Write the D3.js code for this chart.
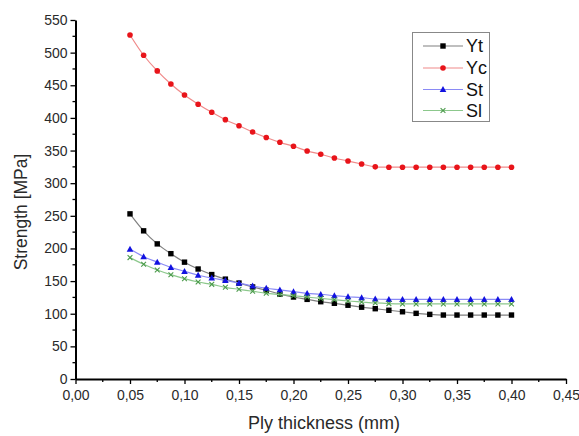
<!DOCTYPE html>
<html><head><meta charset="utf-8">
<script src="https://cdn.jsdelivr.net/npm/d3@7"></script>
<style>body{margin:0;background:#fff}svg{display:block}text{font-family:"Liberation Sans",Arial,sans-serif}</style>
</head><body><div id="c"></div>
<script>
const thickness = d3.range(29).map(i => +(0.05 + i*0.0125).toFixed(4));
const Yt = [253,227,207,192,179,168.5,160,153,147,141,136,130,125.6,122,118.4,116,113,110,107.7,105.3,103,100.6,99,98,98,98,98,98,98];
const Yc = [527,496,472,452,435,421,408.6,397.3,388,378.4,370,362.6,356.5,349.3,344.3,338.6,334,329.4,325,324.5,324.5,324.5,324.5,324.5,324.5,324.5,324.5,324.5,324.5];
const St = [199,187.4,179,171,165,159,154.7,151,147,142.5,139,136.4,133.8,131.3,129.8,127.7,126,124.6,122.6,122,122,122,122,122,122,122,122,122,122];
const Sl = [186,175.7,167,159.8,153.7,148.6,145,140.5,137.4,134.4,131.3,129.5,127.5,125.5,123.5,121.5,119.5,118,116.5,115.5,115,115,115,115,115,115,115,115,115];
const seriesNames = ["Yt","Yc","St","Sl"];
const xTicks = [0,0.05,0.10,0.15,0.20,0.25,0.30,0.35,0.40,0.45];
const yTicks = [0,50,100,150,200,250,300,350,400,450,500,550];

const W=579,H=436;
const svg=d3.select("#c").append("svg").attr("width",W).attr("height",H);
const x=d3.scaleLinear().domain([0,0.45]).range([75.5,566]);
const y=d3.scaleLinear().domain([0,550]).range([379,20]);

const series=[
 {name:"Yt",vals:Yt,line:"#808080",mark:"#000",shape:"square"},
 {name:"Yc",vals:Yc,line:"#f08a8a",mark:"#e8141a",shape:"circle"},
 {name:"St",vals:St,line:"#8a8af5",mark:"#1212e0",shape:"triangle"},
 {name:"Sl",vals:Sl,line:"#8cc88c",mark:"#4a9a4a",shape:"cross"}
];

function drawMarker(g,shape,col,cx,cy){
  if(shape==="square") g.append("rect").attr("x",cx-2.7).attr("y",cy-2.7).attr("width",5.4).attr("height",5.4).attr("fill",col);
  else if(shape==="circle") g.append("circle").attr("cx",cx).attr("cy",cy).attr("r",2.8).attr("fill",col);
  else if(shape==="triangle") g.append("path").attr("d",`M${cx},${cy-3.4}L${cx+3.3},${cy+2.6}L${cx-3.3},${cy+2.6}Z`).attr("fill",col);
  else g.append("path").attr("d",`M${cx-2.4},${cy-2.4}L${cx+2.4},${cy+2.4}M${cx+2.4},${cy-2.4}L${cx-2.4},${cy+2.4}`).attr("stroke",col).attr("stroke-width",1.1);
}

series.forEach(s=>{
  const data=thickness.map((t,i)=>[t,s.vals[i]]);
  svg.append("path").datum(data).attr("fill","none").attr("stroke",s.line).attr("stroke-width",1.2)
    .attr("d",d3.line().x(d=>x(d[0])).y(d=>y(d[1])).curve(d3.curveCatmullRom));
  const g=svg.append("g");
  data.forEach(d=>drawMarker(g,s.shape,s.mark,x(d[0]),y(d[1])));
});

const xMinor=d3.range(0.025,0.45,0.05);
const yMinor=d3.range(25,550,50);
const ax=svg.append("g").attr("transform","translate(0,379)");
ax.call(d3.axisBottom(x).tickValues(xTicks).tickSize(5).tickSizeOuter(0).tickPadding(4).tickFormat(d=>d3.format(".2f")(d).replace(".",",")));
xMinor.forEach(v=>ax.append("line").attr("x1",x(v)).attr("x2",x(v)).attr("y1",0).attr("y2",3).attr("stroke","#000").attr("stroke-width",1.3));
const ay=svg.append("g").attr("transform","translate(75.5,0)");
ay.call(d3.axisLeft(y).tickValues(yTicks).tickSize(5).tickSizeOuter(0).tickPadding(3));
yMinor.forEach(v=>ay.append("line").attr("x1",0).attr("x2",-3).attr("y1",y(v)).attr("y2",y(v)).attr("stroke","#000").attr("stroke-width",1.3));
[ax,ay].forEach(a=>{
  a.select(".domain").attr("stroke","#000").attr("stroke-width",2);
  a.selectAll(".tick line").attr("stroke","#000").attr("stroke-width",1.3);
  a.selectAll(".tick text").attr("fill","#2a2a2a").style("font-size","14px");
});
ax.selectAll(".tick text").attr("dy","0.85em");

svg.append("text").attr("x",324).attr("y",429).attr("text-anchor","middle").attr("fill","#2a2a2a").style("font-size","18px").text("Ply thickness (mm)");
svg.append("text").attr("transform","translate(27,212) rotate(-90)").attr("text-anchor","middle").attr("fill","#2a2a2a").style("font-size","17.5px").text("Strength [MPa]");

const lg=svg.append("g");
lg.append("rect").attr("x",412.5).attr("y",32.5).attr("width",77).attr("height",89).attr("fill","#fff").attr("stroke","#888").attr("stroke-width",1);
const rows=[46,68,89.5,110.5];
series.forEach((s,i)=>{
  const ry=rows[i];
  lg.append("line").attr("x1",423).attr("x2",463).attr("y1",ry).attr("y2",ry).attr("stroke",s.line).attr("stroke-width",1.2);
  drawMarker(lg,s.shape,s.mark,443,ry);
  lg.append("text").attr("x",466).attr("y",ry+6.3).attr("fill","#111").style("font-size","18px").text(seriesNames[i]);
});
</script></body></html>
